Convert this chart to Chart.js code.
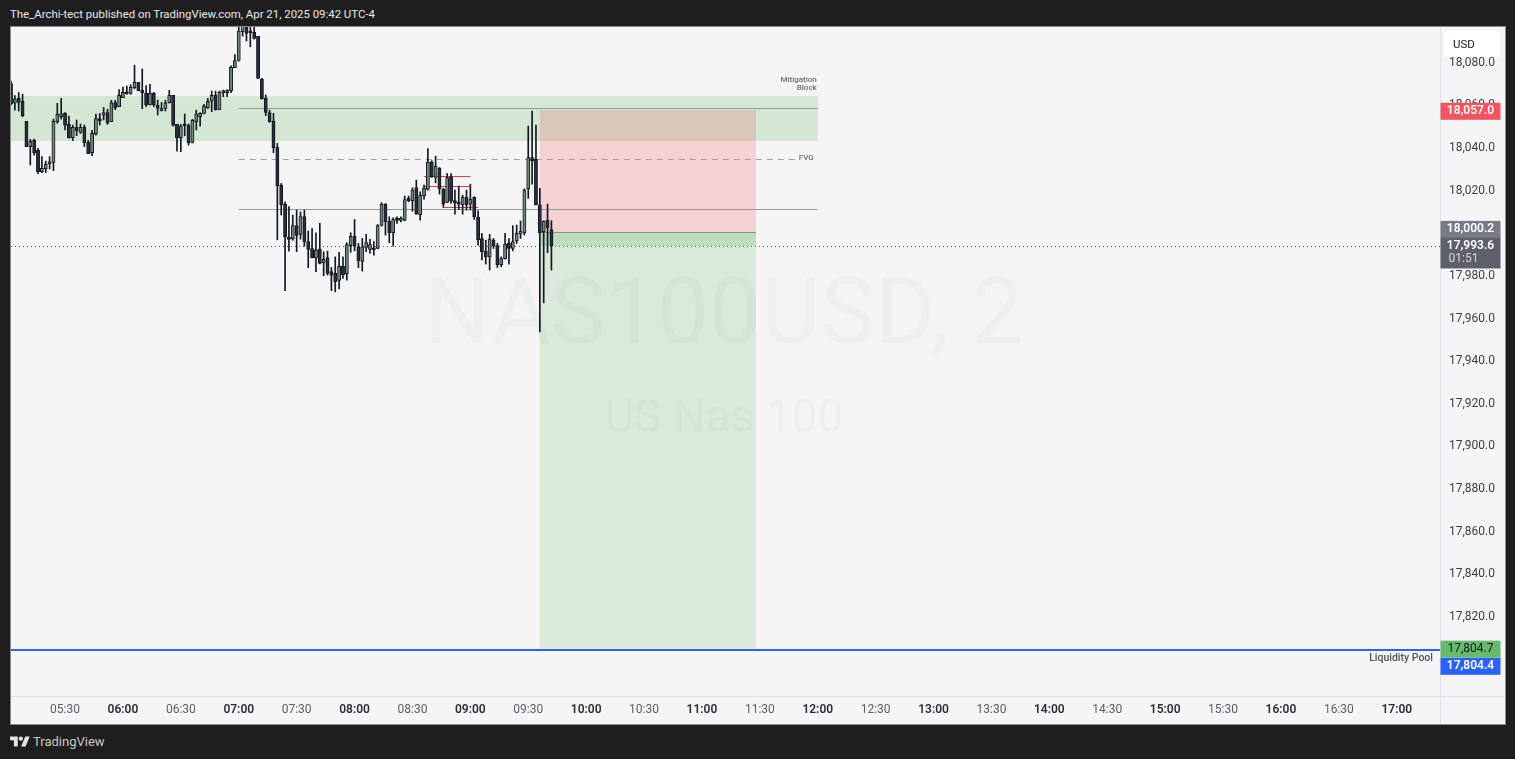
<!DOCTYPE html>
<html><head><meta charset="utf-8">
<style>
html,body{margin:0;padding:0;width:1515px;height:759px;background:#1e1e1e;overflow:hidden;font-family:Roboto,"Noto Sans",sans-serif}
#title{position:absolute;left:10px;top:7px;font-size:11.4px;color:#e8e8e8;white-space:nowrap}
#panel{position:absolute;left:10px;top:26px;width:1494px;height:697px;border:1px solid #8a8a8a;background:#f5f5f5}
#c{position:absolute;left:11px;top:27px}
#logo{position:absolute;left:10px;top:734px;display:flex;align-items:center;color:#c9c9c9;font-size:13px}
#logo svg{width:20px;height:14px;margin-right:3px}
</style></head><body>
<div id="title">The_Archi-tect published on TradingView.com, Apr 21, 2025 09:42 UTC-4</div>
<div id="panel"></div>
<canvas id="c" width="1493" height="696"></canvas>
<div id="logo"><svg viewBox="0 0 36 24"><path fill="#e4e4e4" d="M14 20H7V9H0V2h14v18zM28 20h-8l7.5-18h8L28 20z"/><circle cx="19.5" cy="6" r="3.8" fill="#e4e4e4"/></svg><span>TradingView</span></div>
<script src="https://cdn.jsdelivr.net/npm/chart.js@4/dist/chart.umd.min.js"></script>
<script>
const firstCandleMinute = 302, candleStepMinutes = 2;
const opens = [18069.8,18060.6,18062.8,18061.6,18052.0,18040.2,18043.1,18038.4,18028.4,18029.8,18032.2,18032.8,18051.9,18054.2,18055.8,18050.6,18044.4,18049.2,18046.9,18049.2,18042.2,18037.3,18046.2,18053.4,18055.0,18056.2,18051.9,18060.9,18058.9,18063.1,18065.5,18065.2,18067.8,18070.3,18066.6,18065.2,18059.8,18065.2,18059.7,18057.0,18058.1,18060.8,18064.2,18050.6,18044.4,18050.3,18050.3,18042.2,18051.9,18054.2,18055.8,18058.4,18061.6,18064.2,18057.5,18065.5,18065.5,18066.4,18077.2,18080.6,18094.1,18099.0,18094.4,18093.8,18091.9,18071.7,18062.8,18056.2,18052.0,18039.8,
18022.1,18013.1,17997.6,17997.0,18003.2,17999.0,18007.4,17995.7,17992.4,17988.0,17992.0,17985.7,17988.2,17981.6,17980.7,17977.4,17984.0,17980.6,17993.7,17998.1,17992.9,17986.3,17992.9,17992.0,17992.1,17992.4,18003.2,18013.1,18005.1,17999.8,18006.5,18005.6,18005.6,18016.0,18014.8,18021.0,18008.2,18017.1,18020.1,18032.9,18025.7,18030.0,18020.3,18014.0,18026.0,18014.9,18014.0,18012.8,18016.5,18013.2,18016.4,18007.1,17997.1,17991.2,17988.5,17996.3,17993.8,17984.8,17987.6,17994.8,17992.4,17996.0,17999.3,17999.8,18020.4,18035.1,18034.2,18012.9,18000.3,18005.7,18001.3];
const highs = [18070.9,18064.1,18065.6,18064.8,18052.0,18043.6,18043.7,18039.4,18035.5,18033.4,18035.5,18053.1,18060.5,18062.8,18056.2,18054.5,18050.3,18052.7,18050.8,18050.3,18043.1,18047.8,18055.5,18055.8,18058.6,18057.7,18061.9,18061.9,18066.9,18068.1,18068.6,18069.2,18078.4,18070.3,18076.6,18068.8,18069.4,18065.6,18062.0,18060.9,18061.9,18066.6,18064.2,18050.6,18050.6,18055.5,18050.8,18053.0,18057.3,18056.2,18060.0,18062.8,18066.3,18066.3,18066.3,18066.7,18067.0,18078.1,18083.4,18097.5,18102.0,18102.0,18099.0,18096.4,18091.9,18072.2,18064.4,18057.3,18055.8,18041.7,
18022.9,18014.3,18012.1,18008.1,18010.4,18009.6,18010.4,18000.6,18001.8,17999.8,18004.2,17990.9,17991.2,17983.5,17988.5,17990.6,17988.5,17995.1,17999.8,18006.0,17994.8,17997.1,17999.0,17996.7,17995.6,18003.7,18013.9,18013.5,18007.3,18006.8,18007.3,18007.3,18017.0,18017.0,18020.9,18024.5,18019.0,18022.1,18039.3,18033.6,18035.7,18030.4,18020.6,18027.6,18027.6,18019.8,18021.7,18017.4,18019.8,18022.6,18016.7,18010.1,17999.5,17996.3,17999.0,17997.1,17994.8,17988.5,17999.5,17997.1,18003.1,18003.4,18005.3,18020.4,18049.8,18056.9,18050.3,18020.6,18005.4,18013.2,18005.4];
const lows = [18059.7,18057.3,18056.9,18054.2,18040.2,18031.6,18036.2,18027.5,18028.0,18028.0,18029.7,18028.9,18051.1,18053.1,18048.0,18044.1,18043.0,18045.3,18046.4,18040.2,18036.9,18035.9,18045.6,18050.3,18052.7,18050.6,18051.9,18057.5,18058.9,18063.1,18064.7,18064.7,18067.3,18066.4,18058.0,18058.9,18059.7,18058.9,18055.0,18056.9,18056.9,18060.6,18049.8,18038.1,18037.8,18045.3,18040.9,18041.9,18048.0,18049.8,18055.5,18058.1,18056.6,18057.3,18057.5,18063.6,18063.6,18065.5,18077.2,18080.3,18092.0,18089.7,18087.0,18090.6,18072.2,18062.5,18054.7,18051.6,18037.3,17996.5,
18008.1,17972.6,17991.2,17996.3,17990.9,17996.8,17993.5,17983.4,17988.0,17981.5,17985.2,17979.6,17979.9,17972.6,17972.1,17973.4,17978.4,17977.6,17990.6,17991.3,17983.4,17981.8,17990.9,17990.1,17989.3,17992.3,18002.9,17998.7,17995.1,17993.5,18004.2,18004.9,18005.4,18014.3,18009.9,18008.5,18005.7,18015.6,18019.8,18025.7,18023.2,18017.9,18011.7,18013.9,18013.5,18008.5,18010.7,18008.5,18010.4,18010.4,18006.0,17994.0,17987.0,17985.1,17982.3,17992.4,17983.5,17983.8,17987.4,17985.1,17991.3,17994.8,17997.1,17998.7,18015.9,18022.6,18012.8,17953.3,17966.9,17990.4,17982.3];
const closes = [18060.2,18062.5,18060.9,18054.7,18040.2,18042.7,18037.3,18028.4,18030.0,18031.9,18032.5,18052.0,18055.3,18055.6,18050.3,18044.4,18049.2,18047.7,18049.2,18042.0,18036.9,18046.4,18053.4,18052.3,18056.2,18051.4,18060.9,18058.4,18064.2,18065.6,18065.0,18068.0,18070.3,18066.4,18065.5,18059.8,18065.2,18059.7,18058.1,18058.1,18060.6,18064.2,18050.3,18044.4,18049.8,18050.0,18042.0,18052.5,18055.3,18055.8,18059.2,18061.4,18064.2,18057.5,18065.6,18065.8,18065.8,18077.4,18080.6,18094.4,18099.0,18093.3,18093.6,18090.9,18072.2,18062.7,18056.2,18051.9,18039.7,18021.9,
18012.9,17997.9,17996.7,18003.2,17998.5,18007.4,17995.6,17992.0,17988.0,17991.5,17985.4,17987.3,17980.7,17979.9,17976.8,17984.0,17980.1,17994.3,17998.1,17993.5,17986.6,17993.2,17995.2,17994.3,17991.8,18003.2,18013.1,18004.9,17999.8,18006.0,18005.6,18006.5,18015.4,18014.8,18019.8,18008.5,18017.3,18020.7,18032.9,18026.0,18031.1,18020.4,18013.2,18025.7,18014.6,18013.7,18013.2,18016.5,18012.8,18015.6,18007.3,17996.5,17990.9,17988.5,17996.8,17993.7,17984.8,17987.7,17994.5,17992.4,17995.7,17999.5,18000.6,18019.8,18035.1,18033.6,18012.9,17999.8,18005.1,18002.1,17993.5];

const timeTicks = [330,360,390,420,450,480,510,540,570,600,630,660,690,720,750,780,810,840,870,900,930,960,990,1020];
const priceTicks = [18080,18060,18040,18020,18000,17980,17960,17940,17920,17900,17880,17860,17840,17820];

const xMin = 302, xMax = 1042.4, yMin = 17782.5, yMax = 18096.3;
const mitigationZone = {x0:302, x1:720, top:18063.9, bottom:18042.8};
const position = {x0:576, x1:688, stop:18057.4, entry:18000.2, target:17804.7, last:17993.6};
const solidLines = [{x0:420,x1:720,p:18058.3},{x0:420,x1:720,p:18010.7}];
const dashedLines = [{x0:420,x1:710,p:18034.5}];
const redLines = [{x0:516,x1:540,p:18026.3},{x0:516,x1:540,p:18021.5},{x0:526,x1:544,p:18011.7}];
const liquidityPrice = 17804.2;
const tags = [
 {label:'18,057.0', p:18057.0, dy:0.5, h:17, bg:'#f7525f', fg:'#ffffff', bold:true},
 {label:'18,000.2', p:18000.2, dy:-2.5, h:17, bg:'#787b86', fg:'#ffffff', bold:true},
 {label:'17,804.7', p:17804.7, dy:0.5, h:17, bg:'#66bb6a', fg:'#131722', bold:false},
 {label:'17,804.4', p:17804.4, dy:17, h:17, bg:'#2962ff', fg:'#ffffff', bold:true}
];

const UI = 'Roboto,"Noto Sans",sans-serif';
const candleTime = i => firstCandleMinute + i*candleStepMinutes;
const pad = n => String(n).padStart(2,'0');
const DARK = '#131722';
const isHour = c => !!c.tick && c.tick.value%60===0;

const annotations = {
  id:'annotations',
  beforeDatasetsDraw(chart){
    const {ctx, chartArea:a, scales:{x,y}} = chart;
    ctx.save();
    ctx.beginPath(); ctx.rect(a.left,a.top,a.right-a.left,a.bottom-a.top); ctx.clip();
    ctx.textBaseline='middle'; ctx.textAlign='center';
    ctx.fillStyle='#eeeff1';
    ctx.font='400 92px '+UI;
    ctx.fillText('NAS100USD, 2', 713, 293);
    ctx.font='400 46px '+UI;
    ctx.fillText('US Nas 100', 713, 393);
    const rect=(x0,x1,p0,p1,c)=>{const X=x.getPixelForValue(x0),W=x.getPixelForValue(x1)-X,Y=y.getPixelForValue(p0),H=y.getPixelForValue(p1)-Y;ctx.fillStyle=c;ctx.fillRect(X,Y,W,H);};
    rect(mitigationZone.x0,mitigationZone.x1,mitigationZone.top,mitigationZone.bottom,'rgba(76,175,80,0.2)');
    rect(position.x0,position.x1,position.stop,position.entry,'rgba(242,54,69,0.18)');
    rect(position.x0,position.x1,position.entry,position.target,'rgba(76,175,80,0.16)');
    rect(position.x0,position.x1,position.entry,position.last,'rgba(76,175,80,0.2)');
    const line=(x0,x1,p,c,w,dash)=>{const Y=Math.round(y.getPixelForValue(p))+(w%2?0.5:0);ctx.strokeStyle=c;ctx.lineWidth=w;ctx.setLineDash(dash||[]);ctx.beginPath();ctx.moveTo(x.getPixelForValue(x0),Y);ctx.lineTo(x.getPixelForValue(x1),Y);ctx.stroke();ctx.setLineDash([]);};
    line(position.x0,position.x1,position.entry,'#8a8e8f',1);
    solidLines.forEach(l=>line(l.x0,l.x1,l.p,'#989898',1));
    dashedLines.forEach(l=>line(l.x0,l.x1,l.p,'#a0a0a0',1,[6,5]));
    redLines.forEach(l=>line(l.x0,l.x1,l.p,'#f23645',1));
    line(xMin,xMax,position.last,'#555960',1,[1,3]);
    line(xMin,xMax,liquidityPrice,'#2962ff',2);
    ctx.fillStyle='#6a6d78'; ctx.textAlign='right'; ctx.textBaseline='middle';
    ctx.font='500 8px '+UI;
    const zr=x.getPixelForValue(720);
    ctx.fillText('Mitigation',zr-1,y.getPixelForValue(18063.9)-16);
    ctx.fillText('Block',zr-1,y.getPixelForValue(18063.9)-8);
    ctx.fillText('FVG',zr-4,y.getPixelForValue(18034.5)-1);
    ctx.font='500 10.5px '+UI; ctx.fillStyle='#50535e';
    ctx.fillText('Liquidity Pool',x.getPixelForValue(xMax)-7,y.getPixelForValue(liquidityPrice)+9);
    ctx.restore();
  },
  afterDraw(chart){
    const {ctx, chartArea:a, scales:{y}} = chart;
    ctx.save();
    ctx.strokeStyle='#e0e3eb'; ctx.lineWidth=1;
    ctx.beginPath();
    ctx.moveTo(a.left,a.bottom+0.5); ctx.lineTo(chart.width,a.bottom+0.5);
    ctx.moveTo(a.right+0.5,a.top); ctx.lineTo(a.right+0.5,chart.height);
    ctx.stroke();
    const L=a.right+0.5, W=60;
    ctx.textBaseline='middle'; ctx.textAlign='center';
    tags.forEach(t=>{
      const c=y.getPixelForValue(t.p)+t.dy;
      ctx.fillStyle=t.bg; ctx.fillRect(L,c-t.h/2,W,t.h);
      ctx.fillStyle=t.fg; ctx.font=(t.bold?'600 ':'400 ')+'12px '+UI;
      ctx.fillText(t.label,L+W/2,c);
    });
    const top=y.getPixelForValue(position.last)-8.5;
    ctx.fillStyle='#5d606b'; ctx.fillRect(L,top,W,31);
    ctx.fillStyle='#ffffff'; ctx.font='600 12px '+UI;
    ctx.fillText('17,993.6',L+W/2,top+8.5);
    ctx.fillStyle='#d6d7da'; ctx.font='400 12px '+UI; ctx.textAlign='left';
    ctx.fillText('01:51',L+8,top+22);
    ctx.fillStyle='#ffffff';
    ctx.beginPath(); ctx.roundRect(a.right+4,4,56,26,3); ctx.fill();
    ctx.fillStyle='#131722'; ctx.font='400 11.5px '+UI; ctx.textAlign='left';
    ctx.fillText('USD',a.right+13,18);
    ctx.restore();
  }
};

const noPad = s => { s.paddingTop=0; s.paddingBottom=0; s.paddingLeft=0; s.paddingRight=0; };

new Chart(document.getElementById('c').getContext('2d'),{
  type:'bar',
  data:{datasets:[
    {data:opens.map((o,i)=>({x:candleTime(i),y:[lows[i],highs[i]]})),
     barThickness:1,grouped:false,backgroundColor:DARK,borderWidth:0,order:2},
    {data:opens.map((o,i)=>({x:candleTime(i),y:[o,closes[i]]})),
     barThickness:3.2,grouped:false,minBarLength:2,
     backgroundColor:opens.map((o,i)=>closes[i]>=o?'#6f8a78':'#2a2e39'),
     borderColor:DARK,borderWidth:1,borderSkipped:false,order:1}
  ]},
  options:{
    responsive:false,animation:false,devicePixelRatio:1,
    layout:{padding:0},
    plugins:{legend:{display:false},tooltip:{enabled:false},title:{display:false}},
    events:[],
    scales:{
      x:{type:'linear',offset:false,min:xMin,max:xMax,
        grid:{display:false,drawTicks:false},border:{display:false},
        afterBuildTicks:s=>{s.ticks=timeTicks.map(v=>({value:v}));},
        afterFit:s=>{s.height=27;noPad(s);},
        ticks:{autoSkip:false,maxRotation:0,minRotation:0,padding:7,
          callback:v=>pad(Math.floor(v/60))+':'+pad(v%60),
          color:c=>isHour(c)?'#2a2e39':'#5a5e69',
          font:c=>({family:UI,size:12,weight:isHour(c)?'600':'400'})}},
      y:{type:'linear',position:'right',min:yMin,max:yMax,
        grid:{display:false,drawTicks:false},border:{display:false},
        afterBuildTicks:s=>{s.ticks=priceTicks.map(v=>({value:v}));},
        afterFit:s=>{s.width=64;noPad(s);},
        ticks:{autoSkip:false,padding:9,labelOffset:1,color:'#3a3e49',
          font:{family:UI,size:12},
          callback:v=>v.toLocaleString('en-US',{minimumFractionDigits:1,maximumFractionDigits:1})}}
    }
  },
  plugins:[annotations,{id:'bg',beforeDraw(ch){const c=ch.ctx;c.save();c.fillStyle='#f5f5f5';c.fillRect(0,0,ch.width,ch.height);c.restore();}}]
});
</script>
</body></html>
